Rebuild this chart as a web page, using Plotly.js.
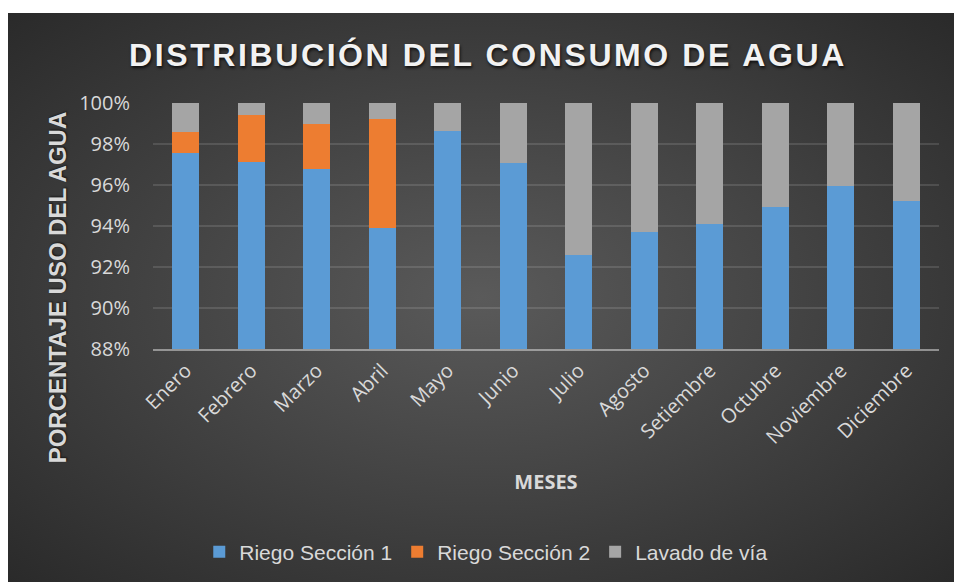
<!DOCTYPE html>
<html>
<head>
<meta charset="utf-8">
<script src="https://cdn.plot.ly/plotly-3.0.1.min.js"></script>
<style>
  html, body { margin: 0; padding: 0; background: #ffffff; }
  #wrap { position: relative; width: 954px; height: 582px; background: #ffffff; overflow: hidden; }
  #bg { position: absolute; left: 8px; top: 13px; width: 946px; height: 569px;
        background: radial-gradient(ellipse at 50% 50%, #5a5a5a 0%, #474747 40%, #2a2a2a 100%); }
  #chart { position: absolute; left: 0; top: 0; width: 954px; height: 582px; }
  #chart .gtitle { letter-spacing: 2.6px; }
</style>
</head>
<body>
<div id="wrap">
  <div id="bg"></div>
  <div id="chart"></div>
</div>
<script>
const meses = ["Enero", "Febrero", "Marzo", "Abril", "Mayo", "Junio", "Julio",
               "Agosto", "Setiembre", "Octubre", "Noviembre", "Diciembre"];
const riegoSeccion1 = [97.55, 97.10, 96.76, 93.89, 98.62, 97.06, 92.59, 93.69, 94.08, 94.92, 95.93, 95.20];
const riegoSeccion2 = [1.05, 2.33, 2.24, 5.35, 0, 0, 0, 0, 0, 0, 0, 0];
const lavadoDeVia   = [1.40, 0.57, 1.00, 0.76, 1.38, 2.94, 7.41, 6.31, 5.92, 5.08, 4.07, 4.80];
const yTicks = [88, 90, 92, 94, 96, 98, 100];

const traces = [
  { name: "Riego Sección 1", x: meses, y: riegoSeccion1, type: "bar", marker: { color: "#5b9bd5" } },
  { name: "Riego Sección 2", x: meses, y: riegoSeccion2, type: "bar", marker: { color: "#ed7d31" } },
  { name: "Lavado de vía",   x: meses, y: lavadoDeVia,   type: "bar", marker: { color: "#a5a5a5" } }
];

const layout = {
  width: 954, height: 582,
  paper_bgcolor: "rgba(0,0,0,0)",
  plot_bgcolor: "rgba(0,0,0,0)",
  margin: { l: 153, r: 15, t: 103, b: 232 },
  barmode: "stack",
  bargap: 0.59,
  showlegend: true,
  title: {
    text: "DISTRIBUCIÓN DEL CONSUMO DE AGUA",
    xref: "container", yref: "container",
    x: 0.5115, xanchor: "center",
    y: 0.906, yanchor: "middle",
    font: { family: "Liberation Sans, Arial, sans-serif", size: 32, color: "#f2f2f2", weight: 700,
            shadow: "1px 2px 3px rgba(0,0,0,0.75)" }
  },
  xaxis: {
    type: "category",
    tickangle: -45,
    tickfont: { family: "Open Sans, sans-serif", size: 20, color: "#d9d9d9" },
    showgrid: false,
    showline: true, linecolor: "rgba(217,217,217,0.55)", linewidth: 2,
    ticks: "",
    title: { text: "MESES", standoff: 26,
             font: { family: "Open Sans, sans-serif", size: 20, color: "#d9d9d9", weight: 700 } }
  },
  yaxis: {
    range: [88, 100],
    tickvals: yTicks,
    ticktext: yTicks.map(v => v + "%"),
    tickfont: { family: "Open Sans, sans-serif", size: 20, color: "#d9d9d9" },
    showgrid: true, gridcolor: "rgba(255,255,255,0.12)", gridwidth: 2,
    zeroline: false, showline: false,
    ticks: "", ticklabelstandoff: 22
  },
  legend: {
    orientation: "h",
    traceorder: "normal",
    x: 0.424, xanchor: "center",
    y: -0.818, yanchor: "middle",
    font: { family: "Liberation Sans, Arial, sans-serif", size: 21, color: "#d9d9d9" },
    bgcolor: "rgba(0,0,0,0)"
  },
  annotations: [{
    text: "PORCENTAJE USO DEL AGUA",
    xref: "paper", yref: "paper",
    x: -0.122, y: 0.251, xanchor: "center", yanchor: "middle",
    textangle: -90, showarrow: false,
    font: { family: "Liberation Sans, Arial, sans-serif", size: 24, color: "#d9d9d9", weight: 700,
            shadow: "1px 1px 2px rgba(0,0,0,0.6)" }
  }]
};

Plotly.newPlot("chart", traces, layout, { displayModeBar: false, staticPlot: true });
</script>
</body>
</html>
